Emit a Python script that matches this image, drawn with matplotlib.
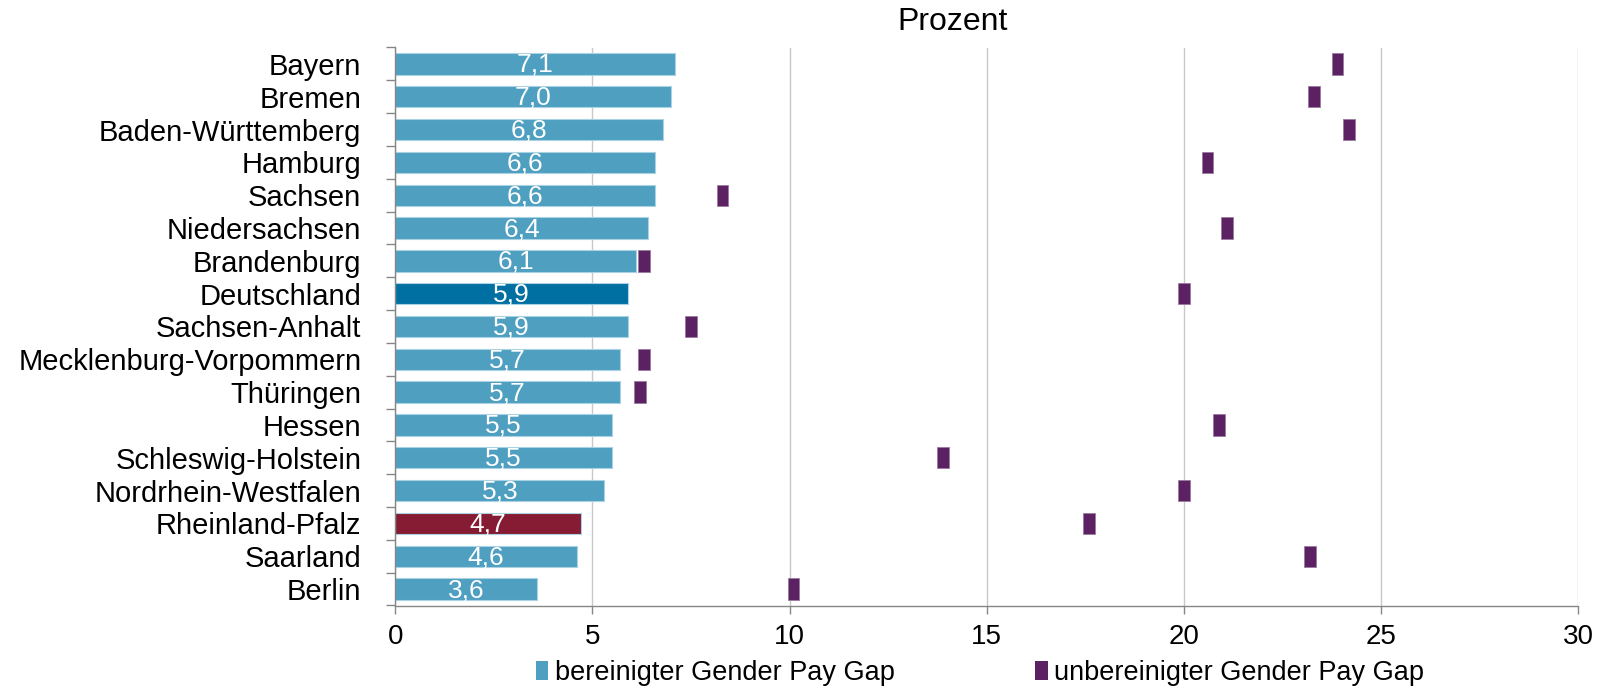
import matplotlib
matplotlib.use('Agg')
import matplotlib.pyplot as plt
import numpy as np
from matplotlib.patches import Patch

plt.rcParams['font.family'] = ['Liberation Sans', 'DejaVu Sans']

laender = ['Bayern', 'Bremen', 'Baden-Württemberg', 'Hamburg', 'Sachsen',
           'Niedersachsen', 'Brandenburg', 'Deutschland', 'Sachsen-Anhalt',
           'Mecklenburg-Vorpommern', 'Thüringen', 'Hessen', 'Schleswig-Holstein',
           'Nordrhein-Westfalen', 'Rheinland-Pfalz', 'Saarland', 'Berlin']
bereinigt = [7.1, 7.0, 6.8, 6.6, 6.6, 6.4, 6.1, 5.9, 5.9, 5.7, 5.7, 5.5, 5.5, 5.3, 4.7, 4.6, 3.6]
unbereinigt = [23.9, 23.3, 24.2, 20.6, 8.3, 21.1, 6.3, 20.0, 7.5, 6.3, 6.2, 20.9, 13.9, 20.0, 17.6, 23.2, 10.1]
xticks = [0, 5, 10, 15, 20, 25, 30]
legend_labels = ['bereinigter Gender Pay Gap', 'unbereinigter Gender Pay Gap']
title = 'Prozent'

c_bar = '#4F9FC1'
c_de = '#0070A3'
c_rp = '#861C33'
c_mark = '#5B2162'
special = {'Deutschland': c_de, 'Rheinland-Pfalz': c_rp}

W, H = 1606, 686
fig = plt.figure(figsize=(W / 100, H / 100), dpi=100)
ax = fig.add_axes([395.3 / W, 1 - 605.5 / H, (1578 - 395.3) / W, (605.5 - 47.5) / H])

n = len(laender)
y = np.arange(n)
colors = [special.get(l, c_bar) for l in laender]
ax.barh(y, bereinigt, height=0.65, color=colors, edgecolor='#A9D2E3', linewidth=0.8, zorder=2)
mark_w = 0.3
ax.barh(y, mark_w, left=np.array(unbereinigt) - mark_w / 2, height=0.65,
        color=c_mark, edgecolor='#9B7BA0', linewidth=0.6, zorder=3)

for yi, v in zip(y, bereinigt):
    ax.text(v / 2, yi + 0.03, f'{v:.1f}'.replace('.', ','), ha='center', va='center',
            color='white', fontsize=19, zorder=4)

ax.set_xlim(0, 30)
ax.set_ylim(n - 0.5, -0.5)
ax.set_xticks(xticks)
ax.set_xticklabels([str(t) for t in xticks])
ax.set_yticks(y)
ax.set_yticklabels(laender)
ax.set_yticks(np.arange(n + 1) - 0.5, minor=True)

ax.tick_params(axis='y', which='major', length=0, pad=24.5, labelsize=21)
ax.tick_params(axis='y', which='minor', length=6.5, width=1, color='#868686')
ax.tick_params(axis='x', which='major', length=6, width=1, color='#868686', labelsize=20, pad=7)

ax.xaxis.grid(True, color='#C8C8C8', linewidth=1)
ax.set_axisbelow(True)
for s in ['top', 'right']:
    ax.spines[s].set_visible(False)
for s in ['left', 'bottom']:
    ax.spines[s].set_color('#868686')
    ax.spines[s].set_linewidth(1)

fig.text(953 / W, 1 - 29.5 / H, title, ha='center', va='baseline', fontsize=23)

handles = [Patch(facecolor=c_bar), Patch(facecolor=c_mark)]
fig.legend(handles, legend_labels, loc='center', bbox_to_anchor=(980 / W, 1 - 673 / H),
           ncol=2, frameon=False, fontsize=19.5, handlelength=0.45, handleheight=0.75,
           handletextpad=0.25, columnspacing=5.2, borderpad=0)

fig.savefig('out.png', dpi=100)
